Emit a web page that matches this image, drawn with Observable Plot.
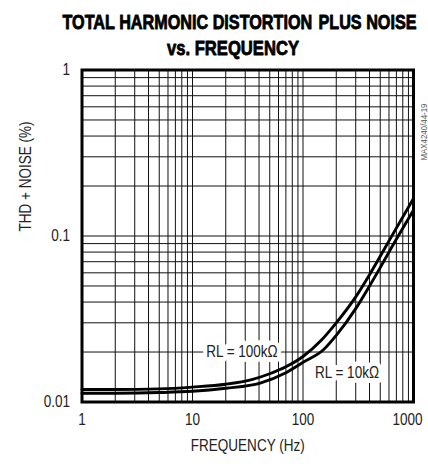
<!DOCTYPE html>
<html><head><meta charset="utf-8">
<script src="https://cdn.jsdelivr.net/npm/d3@7"></script>
<script src="https://cdn.jsdelivr.net/npm/@observablehq/plot@0.6"></script>
<style>
html,body{margin:0;padding:0;background:#fff;}
#chart{width:428px;height:464px;overflow:hidden;}
</style></head><body><div id="chart"></div>
<script>
// Data
const freq100k = [1, 2, 5, 10, 20, 35, 50, 70, 100, 144, 200, 300, 400, 500, 600, 1000];
const thd100k  = [0.0119, 0.0119, 0.0120, 0.0123, 0.0128, 0.0137, 0.0148, 0.0163, 0.0188, 0.0233, 0.0300, 0.0430, 0.0585, 0.0755, 0.0935, 0.168];
const freq10k  = [1, 2, 5, 10, 20, 41, 70, 101, 154, 200, 300, 400, 500, 600, 1000];
const thd10k   = [0.0113, 0.0113, 0.0114, 0.0116, 0.0121, 0.0130, 0.0150, 0.0174, 0.0207, 0.0252, 0.0365, 0.0500, 0.0645, 0.0800, 0.143];

const xTicks = [1, 10, 100, 1000];
const yTicks = [1, 0.1, 0.01];
const xGrid = [2,3,4,5,6,7,8,9, 10,20,30,40,50,60,70,80,90, 100,200,300,400,500,600,700,800,900];
const yGrid = [0.02,0.03,0.04,0.05,0.06,0.07,0.08,0.09, 0.1,0.2,0.3,0.4,0.5,0.6,0.7,0.8,0.9];

const titleLine1 = "TOTAL HARMONIC DISTORTION PLUS NOISE";
const titleLine2 = "vs. FREQUENCY";
const xLabel = "FREQUENCY (Hz)";
const yLabel = "THD + NOISE (%)";
const figId = "MAX4240/44-19";
const loadLabels = ["100kΩ", "10kΩ"];

const rows100k = freq100k.map((f, i) => ({f, v: thd100k[i]}));
const rows10k = freq10k.map((f, i) => ({f, v: thd10k[i]}));
const titleWords = titleLine1.split(" ");
const titleA = titleWords.slice(0, 3).join(" ");
const titleB = titleWords.slice(3).join(" ");

const FONT = "'Liberation Sans', Arial, Helvetica, sans-serif";
const FS = 16.3;
const INK = "#222";
const titleStyle = {fontFamily: FONT, fontSize: 19.5, fontWeight: "bold", fill: "black", stroke: "black", strokeWidth: 0.8, ariaLabel: "title1"};

const chart = Plot.plot({
  width: 428, height: 464,
  marginLeft: 81.5, marginRight: 15, marginTop: 69.5, marginBottom: 62.5,
  x: {type: "log", domain: [1, 1000], axis: null},
  y: {type: "log", domain: [0.01, 1], axis: null},
  style: {fontFamily: FONT, fontSize: FS + "px", background: "white", overflow: "visible", color: INK},
  marks: [
    Plot.ruleX(xGrid, {stroke: "#111", strokeWidth: 1}),
    Plot.ruleY(yGrid, {stroke: "#111", strokeWidth: 1}),
    Plot.line(rows100k, {x: "f", y: "v", curve: "monotone-x", stroke: "black", strokeWidth: 2.9}),
    Plot.line(rows10k, {x: "f", y: "v", curve: "monotone-x", stroke: "black", strokeWidth: 2.9}),
    Plot.text([loadLabels[0]], {x: 28, y: 0.0200, text: d => "RL = " + d, fontFamily: FONT, fontSize: FS, fill: INK, stroke: "white", strokeWidth: 10, ariaLabel: "curve-label"}),
    Plot.text([loadLabels[1]], {x: 250, y: 0.0151, text: d => "RL = " + d, fontFamily: FONT, fontSize: FS, fill: INK, stroke: "white", strokeWidth: 10, ariaLabel: "curve-label"}),
    Plot.frame({stroke: "black", strokeWidth: 3}),
    Plot.text(xTicks.slice(0, 3), {x: d => d, frameAnchor: "bottom", dy: 22.5, text: d => String(d), fontFamily: FONT, fontSize: FS, fill: INK}),
    Plot.text(xTicks.slice(3), {x: d => d, frameAnchor: "bottom", dx: -6, dy: 22.5, text: d => String(d), fontFamily: FONT, fontSize: FS, fill: INK}),
    Plot.text(yTicks, {y: d => d, frameAnchor: "left", dx: -12, textAnchor: "end", text: d => String(d), fontFamily: FONT, fontSize: FS, fill: INK}),
    Plot.text([xLabel], {frameAnchor: "bottom", dy: 49, text: d => d, fontFamily: FONT, fontSize: FS, fill: INK}),
    Plot.text([yLabel], {frameAnchor: "left", dx: -56.5, dy: -4.5, rotate: -90, text: d => d, fontFamily: FONT, fontSize: FS, fill: INK}),
    Plot.text([titleA], {frameAnchor: "top-left", dx: -19.5, dy: -55, textAnchor: "start", text: d => d, ...titleStyle}),
    Plot.text([titleB], {frameAnchor: "top-right", dx: 3, dy: -55, textAnchor: "end", text: d => d, ...titleStyle}),
    Plot.text([titleLine2], {frameAnchor: "top-left", dx: 151, dy: -29, textAnchor: "middle", text: d => d, fontFamily: FONT, fontSize: 20, fontWeight: "bold", fill: "black", stroke: "black", strokeWidth: 0.8, ariaLabel: "title2"}),
    Plot.text([figId], {frameAnchor: "top-right", dx: 7, dy: 33.5, rotate: -90, text: d => d, fontFamily: FONT, fontSize: 9.5, fill: "#555", ariaLabel: "figid"})
  ]
});

// Subscript "L" in the R_L labels
d3.select(chart).selectAll('g[aria-label="curve-label"] text').each(function() {
  const t = this.textContent;
  const rest = t.slice(2);
  const sel = d3.select(this);
  sel.text(null);
  sel.append("tspan").text("R");
  sel.append("tspan").attr("font-size", "0.72em").attr("dy", "0.3em").text("L");
  sel.append("tspan").attr("dy", "-0.216em").text(rest);
});

document.getElementById("chart").appendChild(chart);

// Condensed lettering (the reference uses a narrow grotesque)
const fixedLengths = {title2: 162, figid: 72};
const squeeze = {title1: 0.829};
d3.select(chart).selectAll("text").each(function() {
  const g = this.closest("g");
  const label = g ? g.getAttribute("aria-label") : null;
  const L = this.getComputedTextLength();
  const target = (label in fixedLengths) ? fixedLengths[label] : L * (squeeze[label] || 0.83);
  this.setAttribute("textLength", target);
  this.setAttribute("lengthAdjust", "spacingAndGlyphs");
});
</script></body></html>
